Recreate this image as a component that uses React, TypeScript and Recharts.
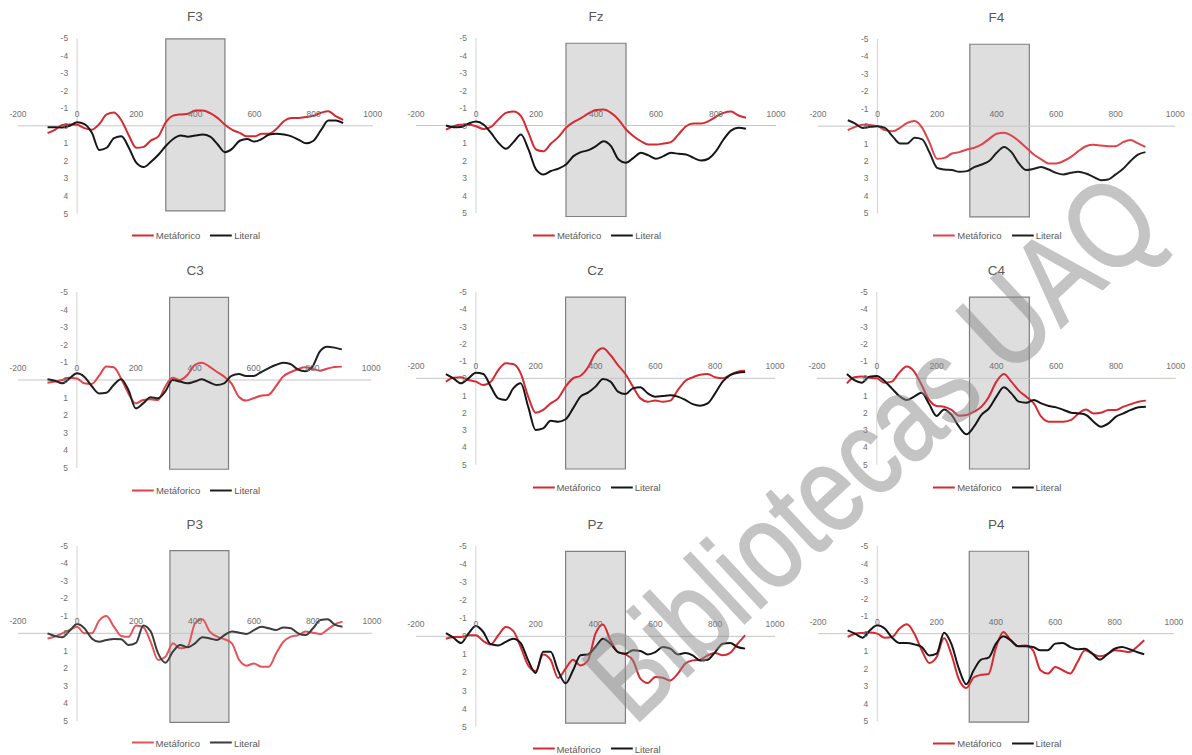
import React from 'react';
import { LineChart, Line, XAxis, YAxis, ReferenceArea, ReferenceLine, ReferenceDot } from 'recharts';

const FONT = '"Liberation Sans", Arial, sans-serif';

// time points (ms)
const times = [-100, -75, -50, -25, 0, 25, 50, 75, 100, 125, 150, 175, 200, 225, 250, 275, 300, 325, 350, 375, 400, 425, 450, 475, 500, 525, 550, 575, 600, 625, 650, 675, 700, 725, 750, 775, 800, 825, 850, 875, 900];
const xTicks = [-200, 0, 200, 400, 600, 800, 1000];
const yTicks = [-5, -4, -3, -2, -1, 0, 1, 2, 3, 4, 5];
const seriesNames = ['Metáforico', 'Literal'];
const electrodes = ['F3', 'Fz', 'F4', 'C3', 'Cz', 'C4', 'P3', 'Pz', 'P4'];
const windowsMs = [[300, 500], [300, 500], [310, 510], [315, 515], [300, 500], [310, 510], [315, 515], [300, 500], [310, 510]];
const windowsUv = [[-4.95, 4.85], [-4.7, 5.2], [-4.7, 5.2], [-4.7, 5.07], [-4.7, 5.25], [-4.7, 5.25], [-4.73, 5.1], [-4.7, 4.8], [-4.7, 5.05]];

const f3Met = [0.42, 0.23, -0.04, -0.08, -0.06, 0.13, 0.22, -0.1, -0.65, -0.76, -0.3, 0.55, 1.25, 1.2, 0.83, 0.6, -0.2, -0.58, -0.65, -0.68, -0.87, -0.87, -0.72, -0.45, -0.06, 0.23, 0.4, 0.6, 0.6, 0.45, 0.45, 0.17, -0.27, -0.45, -0.45, -0.5, -0.57, -0.74, -0.83, -0.55, -0.34];
const f3Lit = [0.08, 0.08, 0.1, 0.0, -0.2, -0.1, 0.4, 1.38, 1.25, 0.7, 0.6, 1.25, 2.1, 2.35, 2.05, 1.65, 1.15, 0.75, 0.55, 0.62, 0.55, 0.5, 0.62, 1.05, 1.5, 1.3, 0.85, 0.75, 0.9, 0.75, 0.5, 0.45, 0.5, 0.6, 0.8, 1.0, 0.85, 0.25, -0.3, -0.3, -0.15];
const fzMet = [0.23, 0.04, -0.04, -0.04, 0.04, 0.2, 0.08, -0.35, -0.72, -0.8, -0.53, 0.42, 1.37, 1.47, 1.03, 0.65, 0.13, -0.19, -0.42, -0.69, -0.88, -0.91, -0.72, -0.34, 0.23, 0.61, 0.9, 1.09, 1.09, 1.03, 0.95, 0.51, 0.04, -0.11, -0.11, -0.25, -0.5, -0.72, -0.8, -0.57, -0.44];
const fzLit = [0, 0.1, 0.08, -0.11, -0.23, -0.06, 0.42, 0.99, 1.33, 0.95, 0.51, 1.37, 2.51, 2.8, 2.6, 2.46, 2.23, 1.75, 1.52, 1.41, 1.18, 0.9, 1.18, 1.94, 2.13, 1.85, 1.56, 1.71, 1.9, 1.75, 1.56, 1.62, 1.66, 1.85, 2.0, 1.9, 1.47, 0.8, 0.29, 0.13, 0.19];
const f4Met = [0.23, 0.04, -0.08, -0.06, 0, 0.23, 0.29, 0.1, -0.19, -0.29, 0.1, 0.96, 1.87, 1.82, 1.57, 1.49, 1.34, 1.24, 1.05, 0.73, 0.44, 0.38, 0.54, 0.86, 1.24, 1.63, 1.91, 2.14, 2.14, 2.0, 1.76, 1.43, 1.15, 1.07, 1.11, 1.15, 1.15, 0.92, 0.8, 0.99, 1.19];
const f4Lit = [-0.34, -0.15, 0.1, 0.04, 0, 0.1, 0.57, 0.99, 0.99, 0.67, 0.76, 1.53, 2.39, 2.49, 2.52, 2.62, 2.58, 2.35, 2.2, 2.0, 1.53, 1.19, 1.49, 2.14, 2.52, 2.45, 2.35, 2.49, 2.68, 2.77, 2.68, 2.62, 2.72, 2.91, 3.1, 3.06, 2.77, 2.45, 2.0, 1.63, 1.49];
const c3Met = [0.15, 0.09, 0, -0.13, -0.09, 0.19, 0.23, -0.23, -0.76, -0.72, -0.09, 0.76, 1.33, 1.14, 1.1, 1.14, 0.38, -0.13, 0, -0.28, -0.85, -0.98, -0.76, -0.47, -0.19, 0.19, 0.95, 1.17, 1.04, 0.89, 0.85, 0.38, -0.19, -0.44, -0.61, -0.72, -0.63, -0.53, -0.64, -0.74, -0.76];
const c3Lit = [-0.04, 0.04, 0.19, -0.09, -0.38, -0.19, 0.34, 0.76, 0.72, 0.28, -0.04, 0.57, 1.61, 1.33, 0.98, 1.04, 0.66, 0, 0.09, 0.19, 0.09, -0.04, 0.13, 0.28, 0.19, -0.23, -0.34, -0.23, -0.23, -0.44, -0.66, -0.85, -0.98, -0.91, -0.6, -0.5, -0.76, -1.61, -1.89, -1.84, -1.74];
const czMet = [0.19, -0.04, -0.06, 0.1, 0.19, 0.39, 0.19, -0.48, -0.87, -0.83, -0.29, 1.06, 1.99, 1.83, 1.45, 1.16, 0.48, 0, -0.15, -0.64, -1.45, -1.74, -1.35, -0.77, -0.25, 0.48, 1.16, 1.35, 1.29, 1.35, 1.29, 0.68, 0.15, -0.06, -0.21, -0.25, -0.06, 0, -0.19, -0.39, -0.44];
const czLit = [-0.25, 0, 0.29, 0, -0.33, -0.25, 0.48, 1.16, 1.25, 0.58, 0.29, 1.64, 2.99, 2.9, 2.45, 2.51, 2.37, 1.74, 1.06, 0.83, 0.48, 0.04, 0.19, 0.77, 0.91, 0.58, 0.52, 0.87, 1.06, 1.02, 0.98, 1.06, 1.25, 1.49, 1.58, 1.45, 0.87, 0.19, -0.19, -0.33, -0.37];
const c4Met = [0.29, -0.06, -0.1, -0.04, 0, 0.25, 0.19, -0.33, -0.68, -0.39, 0.39, 1.25, 1.6, 1.64, 1.83, 2.16, 2.12, 1.93, 1.64, 1.06, 0.19, -0.25, 0.19, 0.71, 1.06, 1.45, 2.22, 2.51, 2.51, 2.51, 2.41, 2.03, 1.8, 2.03, 1.99, 1.83, 1.83, 1.64, 1.49, 1.35, 1.29];
const c4Lit = [-0.25, 0.1, 0.25, -0.1, -0.14, 0.14, 0.58, 1.02, 1.25, 1.06, 0.83, 1.49, 2.18, 1.8, 2.12, 2.8, 3.24, 2.8, 2.12, 1.74, 1.06, 0.52, 0.87, 1.35, 1.41, 1.25, 1.45, 1.6, 1.68, 1.83, 1.99, 2.03, 2.12, 2.51, 2.8, 2.61, 2.22, 2.03, 1.83, 1.68, 1.64];
const p3Met = [0.29, 0.19, 0, -0.19, -0.38, 0, 0, -0.73, -0.99, -0.38, 0.15, 0.2, -0.45, -0.35, 0.5, 1.53, 1.34, 0.57, 0.86, 0.76, -0.57, -0.8, -0.1, 0.19, 0.34, 0.57, 1.53, 1.85, 1.72, 1.91, 1.91, 1.15, 0.48, 0.19, 0.1, -0.1, -0.04, 0.04, -0.23, -0.52, -0.67];
const p3Lit = [0, 0.15, 0.23, -0.15, -0.53, -0.29, 0.29, 0.48, 0.38, 0.32, 0.34, 0.67, 0.55, -0.45, -0.1, 1.15, 1.68, 1.05, 0.67, 0.8, 0.57, 0.23, 0.29, 0.38, 0.1, -0.1, -0.04, 0.04, -0.19, -0.38, -0.29, -0.19, -0.34, -0.29, 0, 0.1, -0.29, -0.76, -0.8, -0.48, -0.38];
const pzMet = [0.13, 0.04, 0.04, -0.06, -0.06, 0.26, 0.44, -0.06, -0.52, -0.3, 0.59, 1.61, 1.92, 1.0, 1.3, 2.3, 1.79, 1.29, 1.61, 1.33, -0.15, -0.66, 0.22, 0.87, 1.0, 1.33, 2.34, 2.58, 2.25, 2.29, 2.44, 2.07, 1.51, 1.33, 1.29, 1.05, 0.92, 1.05, 0.92, 0.41, -0.06];
const pzLit = [-0.18, 0.07, 0.37, -0.15, -0.57, -0.24, 0.44, 0.5, 0.31, 0.13, 0.37, 1.33, 2.03, 0.85, 0.85, 1.9, 2.6, 1.88, 1.05, 1.0, 0.59, 0.13, 0.41, 0.87, 0.96, 0.77, 0.81, 1.0, 0.87, 0.59, 0.68, 1.0, 0.92, 1.05, 1.33, 1.29, 0.87, 0.41, 0.37, 0.59, 0.68];
const p4Met = [0.19, 0, -0.04, -0.06, 0, 0.23, 0.19, -0.29, -0.53, 0, 0.95, 1.67, 1.33, 0.25, 1.2, 2.6, 3.1, 2.5, 2.35, 2.3, 0.8, -0.1, 0.38, 0.72, 0.67, 0.95, 2.09, 2.28, 1.9, 2.09, 2.28, 1.62, 0.95, 1.14, 1.29, 1.18, 0.95, 0.99, 1.05, 0.76, 0.38];
const p4Lit = [-0.19, 0, 0.23, -0.19, -0.48, -0.29, 0.23, 0.53, 0.53, 0.61, 0.76, 1.24, 1.14, -0.05, 0.6, 2.0, 2.89, 2.09, 1.48, 1.37, 0.57, 0.15, 0.38, 0.72, 0.72, 0.76, 0.95, 0.95, 0.57, 0.53, 0.76, 0.89, 0.86, 1.14, 1.48, 1.18, 0.86, 0.76, 0.89, 1.05, 1.18];

const metSeries = [f3Met, fzMet, f4Met, c3Met, czMet, c4Met, p3Met, pzMet, p4Met];
const litSeries = [f3Lit, fzLit, f4Lit, c3Lit, czLit, c4Lit, p3Lit, pzLit, p4Lit];

// layout: plot-area boxes on the page
const boxes = [
  { x: 17.6, y: 37.7, w: 354.7, h: 175.6 },
  { x: 416, y: 38.3, w: 360, h: 175 },
  { x: 817.8, y: 39, w: 357.2, h: 174.3 },
  { x: 18.4, y: 292.3, w: 353.3, h: 176 },
  { x: 416, y: 292.3, w: 359, h: 172.7 },
  { x: 816.9, y: 292.3, w: 358.8, h: 172.7 },
  { x: 17.7, y: 546, w: 354, h: 174.7 },
  { x: 416, y: 546, w: 359, h: 180.7 },
  { x: 818.4, y: 545.7, w: 355.9, h: 175.3 },
];
const colorSets = [
  ['#d62a33', '#161616'],
  ['#d62a33', '#161616'],
  ['#e0434b', '#202020'],
  ['#e0434b', '#202020'],
  ['#d62a33', '#161616'],
  ['#d62a33', '#161616'],
  ['#e2555a', '#3c3c3c'],
  ['#d62a33', '#161616'],
  ['#d62a33', '#161616'],
];

const TICK_COLOR = '#6f6f6f';

function Panel({ idx }: { idx: number }) {
  const M = 14;
  const box = boxes[idx];
  const met = metSeries[idx];
  const lit = litSeries[idx];
  const [red, black] = colorSets[idx];
  const data = times.map((t, i) => ({ t, met: met[i], lit: lit[i] }));
  const cx = box.x + box.w / 2;
  return (
    <>
      <div
        style={{
          position: 'absolute',
          left: cx,
          top: box.y - 22,
          transform: 'translate(-50%, -50%)',
          fontFamily: FONT,
          fontSize: 13.5,
          color: '#595959',
          whiteSpace: 'nowrap',
          width: 'max-content',
        }}
      >
        {electrodes[idx]}
      </div>
      <div style={{ position: 'absolute', left: box.x - M, top: box.y - M }}>
        <LineChart
          width={box.w + 2 * M}
          height={box.h + 2 * M}
          data={data}
          margin={{ top: M, right: M, bottom: M, left: M }}
        >
          <XAxis type="number" dataKey="t" domain={[-200, 1000]} hide />
          <YAxis type="number" domain={[-5, 5]} reversed hide />
          <ReferenceArea
            x1={windowsMs[idx][0]}
            x2={windowsMs[idx][1]}
            y1={windowsUv[idx][0]}
            y2={windowsUv[idx][1]}
            fill="#dedede"
            fillOpacity={1}
            stroke="#7f7f7f"
            strokeWidth={1.2}
            ifOverflow="visible"
          />
          <ReferenceLine y={0} stroke="#c6c6c6" strokeWidth={1} />
          <ReferenceLine x={0} stroke="#d2d2d2" strokeWidth={1} />
          {xTicks.map((t) => (
            <ReferenceDot
              key={'x' + t}
              x={t}
              y={0}
              r={0}
              fill="none"
              stroke="none"
              label={{ value: String(t), position: 'top', offset: 9, fill: TICK_COLOR, fontSize: 8.5, fontFamily: FONT }}
            />
          ))}
          {yTicks.map((v) => (
            <ReferenceDot
              key={'y' + v}
              x={0}
              y={v}
              r={0}
              fill="none"
              stroke="none"
              label={{ value: String(v), position: 'left', offset: 9, fill: TICK_COLOR, fontSize: 8.5, fontFamily: FONT }}
            />
          ))}
          <Line type="monotone" dataKey="met" name={seriesNames[0]} stroke={red} strokeWidth={2} dot={false} isAnimationActive={false} />
          <Line type="monotone" dataKey="lit" name={seriesNames[1]} stroke={black} strokeWidth={2} dot={false} isAnimationActive={false} />
        </LineChart>
      </div>
      <div
        style={{
          position: 'absolute',
          left: cx + 1,
          top: box.y + box.h + 22,
          transform: 'translate(-50%, -50%)',
          display: 'flex',
          alignItems: 'center',
          fontFamily: FONT,
          fontSize: 9.5,
          color: '#595959',
          whiteSpace: 'nowrap',
          width: 'max-content',
        }}
      >
        {seriesNames.map((n, i) => (
          <span key={n} style={{ display: 'flex', alignItems: 'center', marginRight: i === 0 ? 10 : 0 }}>
            <svg width={22} height={6} style={{ marginRight: 2 }}>
              <line x1={0} y1={3} x2={22} y2={3} stroke={i === 0 ? red : black} strokeWidth={2} />
            </svg>
            <span>{n}</span>
          </span>
        ))}
      </div>
    </>
  );
}

export default function App() {
  return (
    <div
      style={{
        position: 'absolute',
        left: 0,
        top: 0,
        width: 1192,
        height: 755,
        overflow: 'hidden',
        background: '#ffffff',
      }}
    >
      {electrodes.map((_, i) => (
        <Panel key={i} idx={i} />
      ))}
      <div
        style={{
          position: 'absolute',
          left: 872,
          top: 448,
          width: 'max-content',
          transform: 'translate(-50%, -50%) rotate(-43deg) scaleX(0.82)',
          fontFamily: FONT,
          fontSize: 122,
          color: '#8a8a8a',
          WebkitTextStroke: '2px #8a8a8a',
          opacity: 0.5,
          whiteSpace: 'nowrap',
          pointerEvents: 'none',
          lineHeight: 0.8,
        }}
      >
        Bibliotecas UAQ
      </div>
    </div>
  );
}
